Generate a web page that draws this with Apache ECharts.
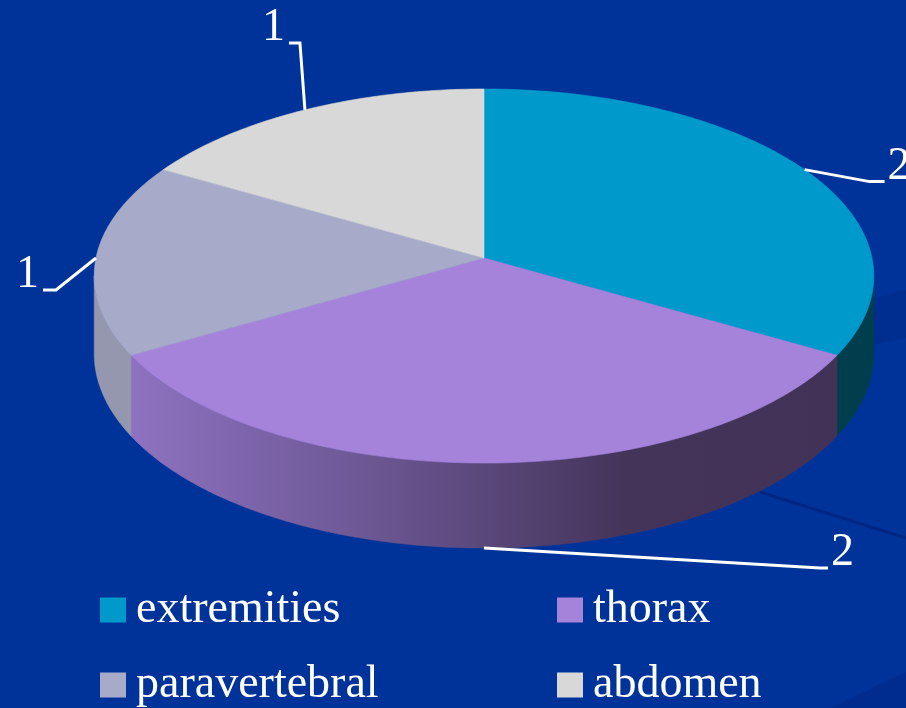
<!DOCTYPE html>
<html><head><meta charset="utf-8">
<script src="https://cdn.jsdelivr.net/npm/echarts/dist/echarts.min.js"></script>
<style>html,body{margin:0;padding:0;background:#003399;overflow:hidden}#c{width:906px;height:708px}</style>
</head><body><div id="c"></div>
<script>
// ---- data ----
const categories = ['extremities', 'thorax', 'paravertebral', 'abdomen'];
const values = [2, 2, 1, 1];
const legendLeftColumn = ['extremities', 'paravertebral'];
const legendRightColumn = ['thorax', 'abdomen'];

// ---- styles ----
const topColors = ['#0099CC', '#A683DB', '#A7ABC9', '#D8D8D8'];
const wallColors = [
  '#003E4E',
  { type: 'linear', x: 130, y: 0, x2: 838, y2: 0, global: true,
    colorStops: [{ offset: 0, color: '#8E72C0' }, { offset: 0.35, color: '#6B5692' },
                 { offset: 0.7, color: '#44345A' }, { offset: 1, color: '#423258' }] },
  '#9597AF',
  '#A0A0A0'
];
// leader layout relative to anchor: [elbowDx, elbowDy, endDx]
const leaderLayout = [[65, 12, 80], [336, 20, 344], [-40, 32, -53], [-5, -67, -16]];

// ---- 3D projection (layout) ----
const CX = 484, CY = 258, RA = 388, RB = 185.3, PERSP = 0.0963, DEPTH = 76.8;
function proj(deg, down) {
  const t = deg * Math.PI / 180;
  const X = Math.sin(t), Z = -Math.cos(t);
  const s = 1 / (1 - PERSP * Z);
  return [CX + RA * X * s, CY + RB * Z * s + (down ? DEPTH * s : 0)];
}
function arc(a0, a1, down) {
  const pts = [];
  const n = Math.max(2, Math.ceil(Math.abs(a1 - a0)));
  for (let k = 0; k <= n; k++) pts.push(proj(a0 + (a1 - a0) * k / n, down));
  return pts;
}
const total = values.reduce((a, b) => a + b, 0);
const SIL0 = Math.acos(-PERSP) * 180 / Math.PI;
const SIL1 = 360 - SIL0;
const FONT = '"Liberation Serif", "DejaVu Serif", serif';

function renderSlice(i, v) {
  let before = 0;
  for (let k = 0; k < i; k++) before += values[k];
  const a0 = before / total * 360;
  const a1 = (before + v) / total * 360;
  const children = [];
  // wall (only visible front part)
  const w0 = Math.max(a0, SIL0), w1 = Math.min(a1, SIL1);
  if (w1 > w0) {
    const pts = arc(w0, w1, false).concat(arc(w0, w1, true).reverse());
    children.push({ type: 'polygon', z2: 1, shape: { points: pts },
      style: { fill: wallColors[i], stroke: wallColors[i], lineWidth: 0.5 } });
  }
  // top face
  const topPts = [[CX, CY]].concat(arc(a0, a1, false));
  children.push({ type: 'polygon', z2: 10, shape: { points: topPts },
    style: { fill: topColors[i], stroke: topColors[i], lineWidth: 0.6 } });
  // leader + label
  const mid = (a0 + a1) / 2;
  const front = mid > SIL0 && mid < SIL1;
  const anchor = proj(mid, front);
  const L = leaderLayout[i];
  const elbow = [anchor[0] + L[0], anchor[1] + L[1]];
  const end = [anchor[0] + L[2], elbow[1]];
  children.push({ type: 'polyline', z2: 20, shape: { points: [anchor, elbow, end] },
    style: { stroke: '#FFFFFF', lineWidth: 3, fill: null } });
  const right = L[2] > 0;
  children.push({ type: 'text', z2: 21, x: end[0] + (right ? 3 : -4), y: end[1] - 15,
    style: { text: String(v), fill: '#FFFFFF', font: '46px ' + FONT,
      align: right ? 'left' : 'right', verticalAlign: 'middle' } });
  return { type: 'group', children };
}

const legendCommon = {
  orient: 'vertical', icon: 'rect', itemWidth: 26, itemHeight: 25, itemGap: 25,
  selectedMode: false, top: 580, height: 160,
  textStyle: { color: '#FFFFFF', fontFamily: FONT, fontSize: 46, lineHeight: 50, padding: [0, 0, 0, 5] }
};

const chart = echarts.init(document.getElementById('c'), null, { renderer: 'canvas' });
chart.setOption({
  animation: false,
  backgroundColor: '#003399',
  graphic: [
    { type: 'polygon', z: -10, shape: { points: [[845, 305], [906, 290], [906, 338], [845, 350]] },
      style: { fill: 'rgba(0,40,135,0.5)' } },
    { type: 'line', z: -10, shape: { x1: 760, y1: 492, x2: 906, y2: 538 },
      style: { stroke: 'rgba(0,35,125,0.8)', lineWidth: 3 } },
    { type: 'polygon', z: -10, shape: { points: [[830, 708], [906, 672], [906, 708]] },
      style: { fill: 'rgba(0,42,140,0.8)' } }
  ],
  legend: [
    Object.assign({ left: 95, data: legendLeftColumn }, legendCommon),
    Object.assign({ left: 552, data: legendRightColumn }, legendCommon)
  ],
  series: categories.map((name, i) => ({
    type: 'custom', name, coordinateSystem: 'none', silent: true,
    itemStyle: { color: topColors[i] },
    data: [[values[i]]],
    renderItem: (params, api) => renderSlice(i, api.value(0))
  }))
});
</script></body></html>
